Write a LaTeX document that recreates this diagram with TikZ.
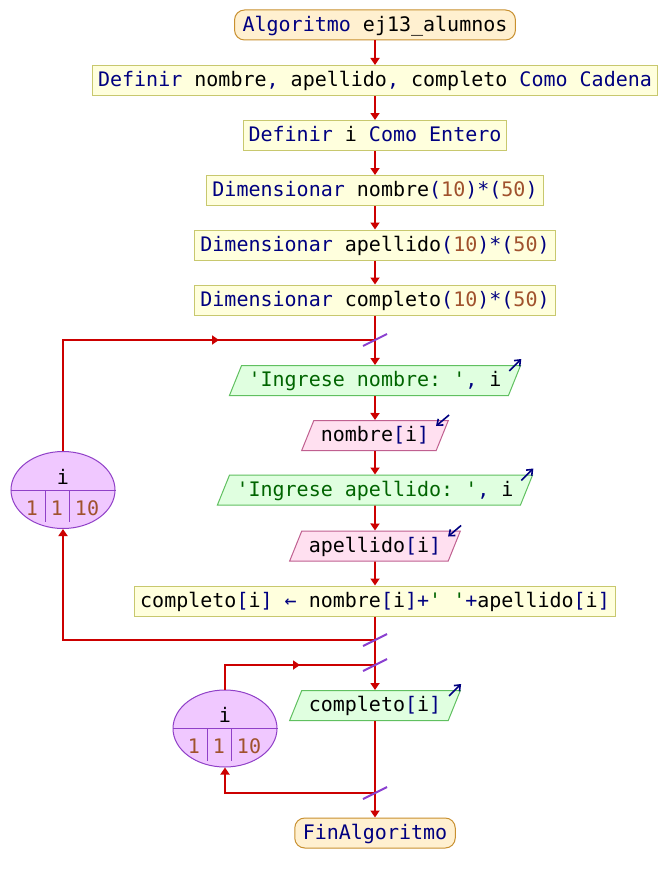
\documentclass[tikz,border=0pt]{standalone}
\usepackage{fontspec}
\setmonofont{DejaVu Sans Mono}
\usetikzlibrary{shapes.geometric,arrows.meta,calc}

% syntax colours
\definecolor{kwcol}{RGB}{0,0,128}
\definecolor{numcol}{RGB}{160,82,45}
\definecolor{strcol}{RGB}{0,100,0}
% flow chart colours
\definecolor{flowcol}{RGB}{204,0,0}
\definecolor{cutcol}{RGB}{138,64,208}
\definecolor{procfill}{RGB}{255,255,221}
\definecolor{procdraw}{RGB}{200,200,110}
\definecolor{termfill}{RGB}{255,240,208}
\definecolor{termdraw}{RGB}{200,144,48}
\definecolor{outfill}{RGB}{224,255,224}
\definecolor{outdraw}{RGB}{96,192,96}
\definecolor{infill}{RGB}{255,224,240}
\definecolor{indraw}{RGB}{192,96,144}
\definecolor{loopfill}{RGB}{240,200,255}
\definecolor{loopdraw}{RGB}{144,64,200}

\newcommand{\pKw}[1]{\textcolor{kwcol}{#1}}
\newcommand{\pOp}[1]{\textcolor{kwcol}{#1}}
\newcommand{\pNum}[1]{\textcolor{numcol}{#1}}
\newcommand{\pStr}[1]{\textcolor{strcol}{#1}}

\tikzset{
  code/.style={font=\ttfamily\fontsize{20}{24}\selectfont, text height=16pt, text depth=3.6pt},
  procbox/.style={code, rectangle, draw=procdraw, fill=procfill, line width=1pt,
    minimum height=30pt, inner xsep=5.5pt},
  termbox/.style={code, rectangle, rounded corners=10pt, draw=termdraw, fill=termfill,
    line width=1pt, minimum height=30pt, inner xsep=8pt},
  iobox/.style={code, trapezium, trapezium left angle=68, trapezium right angle=112,
    line width=1pt, inner xsep=7pt, inner ysep=5.2pt},
  outbox/.style={iobox, draw=outdraw, fill=outfill},
  inbox/.style={iobox, draw=indraw, fill=infill},
  loopnode/.style={ellipse, draw=loopdraw, fill=loopfill, line width=1pt,
    minimum width=104pt, minimum height=77pt, inner sep=0pt},
  looptext/.style={code, inner sep=0pt, anchor=base},
  divider/.style={draw=loopdraw, line width=1pt},
  flowline/.style={draw=flowcol, line width=1.8pt},
  flow/.style={flowline, -{Triangle[width=9pt,length=7pt]}},
  cut/.style={draw=cutcol, line width=2pt},
  iomark/.style={draw=kwcol, line width=1.6pt, -{Straight Barb[length=5pt,width=8pt]}},
}

\begin{document}
\begin{tikzpicture}[x=1pt,y=-1pt]
  \useasboundingbox (0,0) rectangle (667,883);
  \fill[white] (0,0) rectangle (667,883);

  % main column
  \node[termbox] (start) at (375,25) {\pKw{Algoritmo} ej13\_alumnos};
  \node[procbox] (defA) at (375,80.5) {\pKw{Definir} nombre\pOp{,} apellido\pOp{,} completo \pKw{Como Cadena}};
  \node[procbox] (defB) at (375,135.5) {\pKw{Definir} i \pKw{Como Entero}};
  \node[procbox] (dimA) at (375,190.5) {\pKw{Dimensionar} nombre\pOp{(}\pNum{10}\pOp{)*(}\pNum{50}\pOp{)}};
  \node[procbox] (dimB) at (375,245) {\pKw{Dimensionar} apellido\pOp{(}\pNum{10}\pOp{)*(}\pNum{50}\pOp{)}};
  \node[procbox] (dimC) at (375,300) {\pKw{Dimensionar} completo\pOp{(}\pNum{10}\pOp{)*(}\pNum{50}\pOp{)}};

  \coordinate (jA) at (375,340);
  \node[outbox] (outA) at (375,380.5) {\pStr{'Ingrese nombre: '}\pOp{,} i};
  \node[inbox] (inA) at (375,435.5) {nombre\pOp{[}i\pOp{]}};
  \node[outbox] (outB) at (375,490) {\pStr{'Ingrese apellido: '}\pOp{,} i};
  \node[inbox] (inB) at (375,546) {apellido\pOp{[}i\pOp{]}};
  \node[procbox] (assign) at (375,601) {completo\pOp{[}i\pOp{]} \pOp{←} nombre\pOp{[}i\pOp{]+}\pStr{' '}\pOp{+}apellido\pOp{[}i\pOp{]}};
  \coordinate (jB) at (375,640);
  \coordinate (jC) at (375,665);
  \node[outbox] (outC) at (375,705.5) {completo\pOp{[}i\pOp{]}};
  \coordinate (jD) at (375,793);
  \node[termbox] (fin) at (375,833) {\pKw{FinAlgoritmo}};

  % loop counters
  \node[loopnode] (loopA) at (63,490) {};
  \draw[divider] (loopA.west) -- (loopA.east);
  \draw[divider] ($(loopA.center)+(-18,0)$) -- ++(0,32);
  \draw[divider] ($(loopA.center)+(6,0)$) -- ++(0,32);
  \node[looptext] (loopAvar) at ($(loopA.center)+(0,-6)$) {i};
  \node[looptext] (loopAfrom) at ($(loopA.center)+(-31,25)$) {\pNum{1}};
  \node[looptext] (loopAstep) at ($(loopA.center)+(-6,25)$) {\pNum{1}};
  \node[looptext] (loopAto) at ($(loopA.center)+(24,25)$) {\pNum{10}};

  \node[loopnode] (loopB) at (225,728.5) {};
  \draw[divider] (loopB.west) -- (loopB.east);
  \draw[divider] ($(loopB.center)+(-18,0)$) -- ++(0,32);
  \draw[divider] ($(loopB.center)+(6,0)$) -- ++(0,32);
  \node[looptext] (loopBvar) at ($(loopB.center)+(0,-6)$) {i};
  \node[looptext] (loopBfrom) at ($(loopB.center)+(-31,25)$) {\pNum{1}};
  \node[looptext] (loopBstep) at ($(loopB.center)+(-6,25)$) {\pNum{1}};
  \node[looptext] (loopBto) at ($(loopB.center)+(24,25)$) {\pNum{10}};

  % sequence connectors
  \draw[flow] (start) -- (defA);
  \draw[flow] (defA) -- (defB);
  \draw[flow] (defB) -- (dimA);
  \draw[flow] (dimA) -- (dimB);
  \draw[flow] (dimB) -- (dimC);
  \draw[flowline] (dimC) -- (jA);
  \draw[flow] (jA) -- (outA);
  \draw[flow] (outA) -- (inA);
  \draw[flow] (inA) -- (outB);
  \draw[flow] (outB) -- (inB);
  \draw[flow] (inB) -- (assign);
  \draw[flowline] (assign) -- (jB);

  % first loop
  \draw[flow] (jB) -| (loopA.south);
  \draw[flowline] (loopA.north) |- (jA);
  \draw[flow] (loopA.north |- jA) -- ($(loopA.north |- jA)!0.5!(jA)$);

  % second loop
  \draw[flowline] (jB) -- (jC);
  \draw[flow] (jC) -- (outC);
  \draw[flowline] (outC) -- (jD);
  \draw[flow] (jD) -| (loopB.south);
  \draw[flowline] (loopB.north) |- (jC);
  \draw[flow] (loopB.north |- jC) -- ($(loopB.north |- jC)!0.5!(jC)$);
  \draw[flow] (jD) -- (fin);

  % loop junction marks
  \foreach \j in {jA,jB,jC,jD}
    \draw[cut] (\j) +(-12,6) -- +(12,-6);

  % input / output markers
  \draw[iomark] ([shift={(-12,6)}]outA.top right corner) -- ([shift={(0,-6)}]outA.top right corner);
  \draw[iomark] ([shift={(-12,6)}]outB.top right corner) -- ([shift={(0,-6)}]outB.top right corner);
  \draw[iomark] ([shift={(-12,6)}]outC.top right corner) -- ([shift={(0,-6)}]outC.top right corner);
  \draw[iomark] ([shift={(0,-5)}]inA.top right corner) -- ([shift={(-13,6)}]inA.top right corner);
  \draw[iomark] ([shift={(0,-5)}]inB.top right corner) -- ([shift={(-13,6)}]inB.top right corner);
\end{tikzpicture}
\end{document}
